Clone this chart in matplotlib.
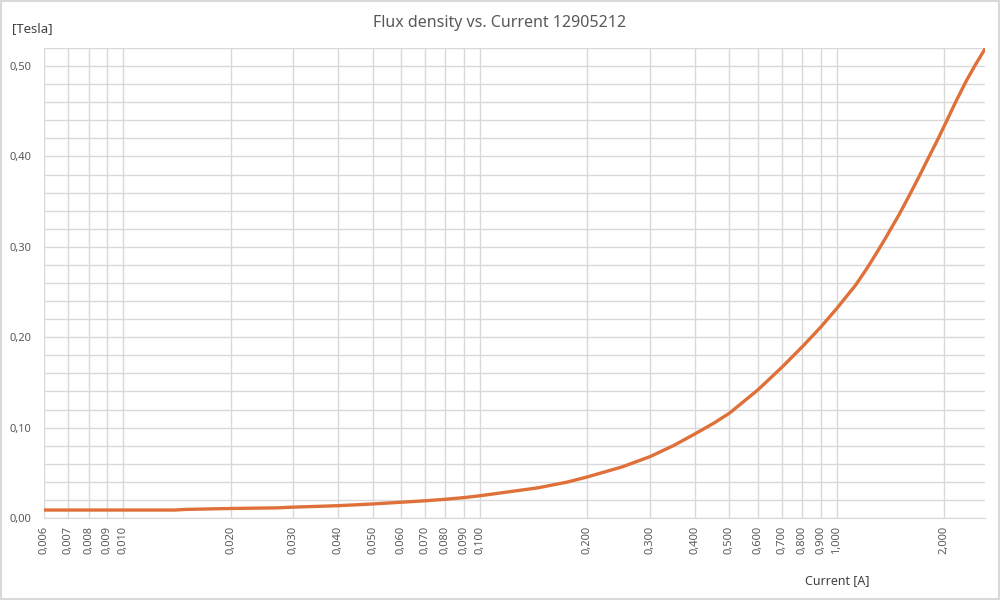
import numpy as np
import matplotlib
matplotlib.use("Agg")
import matplotlib.pyplot as plt
from matplotlib.ticker import FixedLocator, FuncFormatter, MultipleLocator, NullFormatter

plt.rcParams['font.family'] = ['Noto Sans', 'DejaVu Sans']

# values
current = [0.006, 0.008, 0.010, 0.014, 0.015, 0.020, 0.027, 0.030, 0.040, 0.050,
           0.060, 0.070, 0.080, 0.090, 0.100, 0.145, 0.176, 0.200, 0.250, 0.300,
           0.350, 0.400, 0.450, 0.500, 0.600, 0.700, 0.800, 0.900, 1.000, 1.130,
           1.213, 1.286, 1.370, 1.495, 1.584, 1.690, 1.800, 1.915, 2.020, 2.150,
           2.300, 2.440, 2.600]
flux = [0.0088, 0.0088, 0.0088, 0.0088, 0.0095, 0.0105, 0.0112, 0.0120, 0.0136, 0.0155,
        0.0174, 0.0190, 0.0207, 0.0225, 0.0246, 0.0333, 0.0398, 0.0455, 0.0565, 0.0680,
        0.0805, 0.0930, 0.1045, 0.1160, 0.1416, 0.1665, 0.1895, 0.2110, 0.2320, 0.2580,
        0.2760, 0.2920, 0.3100, 0.3360, 0.3545, 0.3760, 0.3975, 0.4185, 0.4375, 0.4600,
        0.4830, 0.5010, 0.5190]

x_ticks = [0.006, 0.007, 0.008, 0.009, 0.010, 0.020, 0.030, 0.040, 0.050, 0.060,
           0.070, 0.080, 0.090, 0.100, 0.200, 0.300, 0.400, 0.500, 0.600, 0.700,
           0.800, 0.900, 1.000, 2.000]

grey = '#595959'
grid_c = '#d9d9d9'

fig = plt.figure(figsize=(10, 6), dpi=100)
ax = fig.add_axes([0.044, 0.1367, 0.941, 0.7833])

ax.plot(current, flux, color='#E0703A', lw=2.4, solid_capstyle='round', solid_joinstyle='round')

ax.set_xscale('log')
ax.set_xlim(0.006, 2.6)
ax.set_ylim(0, 0.52)

ax.xaxis.set_major_locator(FixedLocator(x_ticks))
ax.xaxis.set_minor_formatter(NullFormatter())
ax.xaxis.set_major_formatter(FuncFormatter(lambda v, p: f"{v:.3f}".replace('.', ',')))
ax.yaxis.set_major_locator(MultipleLocator(0.10))
ax.yaxis.set_minor_locator(MultipleLocator(0.02))
ax.yaxis.set_major_formatter(FuncFormatter(lambda v, p: f"{v:.2f}".replace('.', ',')))

ax.grid(True, which='major', axis='x', color=grid_c, lw=1)
ax.grid(True, which='both', axis='y', color=grid_c, lw=1)
ax.set_axisbelow(True)

for s in ['top', 'right', 'left']:
    ax.spines[s].set_visible(False)
ax.spines['bottom'].set_color(grid_c)

ax.tick_params(axis='x', which='both', length=0, pad=6, labelsize=8, labelcolor=grey, rotation=90)
ax.tick_params(axis='y', which='both', length=0, pad=9, labelsize=8, labelcolor=grey)

fig.text(0.5, 0.962, "Flux density vs. Current 12905212", ha='center', va='center',
         fontsize=11.5, color=grey)
fig.text(0.012, 0.953, "[Tesla]", ha='left', va='center', fontsize=9.5, color='#404040')
fig.text(0.837, 0.033, "Current [A]", ha='center', va='center', fontsize=9, color='#404040')

fig.patches.append(plt.Rectangle((0.001, 0.002), 0.998, 0.996, transform=fig.transFigure,
                                 fill=False, edgecolor=grid_c, lw=1.5))

fig.savefig("out.png", dpi=100)
